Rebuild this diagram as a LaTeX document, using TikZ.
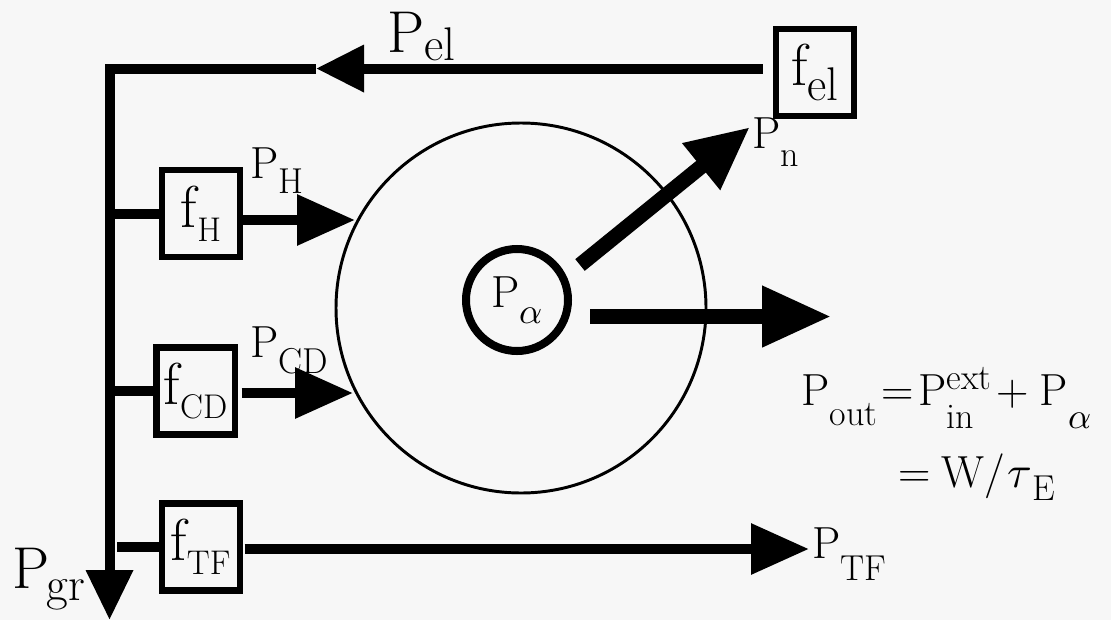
\documentclass[tikz,border=0pt]{standalone}
\usepackage{unicode-math}
\usepackage{graphicx}
\usetikzlibrary{arrows.meta}

\newcommand{\lowr}[2][0.35em]{\raisebox{-#1}{\scalebox{0.8}{#2}}}
\newcommand{\uppr}[2][0.35em]{\raisebox{#1}{\scalebox{0.8}{#2}}}
\newcommand{\lowf}[1]{\raisebox{-0.24em}{\scalebox{0.58}{#1}}}

\begin{document}
\begin{tikzpicture}[
  wire/.style={line width=7.1pt},
  ctrl/.style={draw,line width=4.3pt,minimum width=1.95cm,minimum height=2.175cm,inner sep=0pt,font=\fontsize{42}{46}\selectfont},
  lab/.style={anchor=base west,inner sep=0pt,font=\fontsize{32}{36}\selectfont},
  biglab/.style={anchor=base west,inner sep=0pt,font=\fontsize{42}{46}\selectfont},
  head/.style={-{Triangle[length=1.45cm,width=1.22cm]}}
]
\fill[black!3] (0.000,0.000) rectangle (27.775,-15.500);
\useasboundingbox (0.000,0.000) rectangle (27.775,-15.500);

\node[circle,draw,line width=2.1pt,minimum size=9.25cm,inner sep=0pt] (plasma) at (13.025,-7.700) {};
\node[circle,draw,line width=5.7pt,minimum size=2.55cm,inner sep=0pt,font=\fontsize{32}{36}\selectfont] (pa) at (12.925,-7.500) {P\lowr{$\alpha$}};

\node[ctrl] (fel) at (20.375,-1.813) {f\lowr[0.25em]{el}};
\node[ctrl] (fH) at (5.025,-5.338) {f\lowf{H}};
\node[ctrl] (fCD) at (4.888,-9.775) {f\lowf{CD}};
\node[ctrl] (fTF) at (5.013,-13.675) {f\lowf{TF}};

\coordinate (corner) at (2.738,-1.713);
\coordinate (grTip) at (2.738,-15.500);
\coordinate (elTip) at (7.900,-1.713);
\draw[wire,-{Triangle[length=1.2cm,width=1.125cm]},shorten <=0.25cm] (elTip -| fel.west) -- (elTip);
\draw[wire,-{Triangle[length=1.25cm,width=1.125cm]}] (elTip) -- (corner) -- (grTip);

\draw[wire] (fH.west) -- (fH.west -| corner);
\draw[wire] (fCD.west) -- (fCD.west -| corner);
\draw[wire,shorten >=0.19cm] (fTF.west) -- (fTF.west -| corner);

\coordinate (hTip) at (8.875,-5.500);
\draw[wire,head] (hTip -| fH.east) -- (hTip);
\coordinate (cdTip) at (8.825,-9.825);
\draw[wire,head,shorten <=0.1cm] (cdTip -| fCD.east) -- (cdTip);
\coordinate (tfTip) at (20.225,-13.725);
\draw[wire,head,shorten <=0.05cm] (tfTip -| fTF.east) -- (tfTip);

\coordinate (outTail) at (14.750,-7.913);
\coordinate (outTip) at (20.775,-7.913);
\draw[line width=10pt,-{Triangle[length=1.725cm,width=1.45cm]}] (outTail) -- (outTip);
\coordinate (nTail) at (14.500,-6.625);
\coordinate (nTip) at (18.750,-3.175);
\draw[line width=10.7pt,-{Triangle[length=1.575cm,width=1.4cm]}] (nTail) -- (nTip);

\node[biglab] (pel) at (9.675,-1.300) {P\lowr[0.15em]{el}};
\node[lab] (ph) at (6.250,-4.450) {P\lowr{H}};
\node[lab] (pcd) at (6.250,-8.925) {P\lowr[0.37em]{CD}};
\node[lab] (pn) at (18.800,-3.700) {P\lowr[0.42em]{n}};
\node[lab] (ptf) at (20.300,-13.950) {P\lowr[0.5em]{TF}};
\node[biglab] (pgr) at (0.300,-14.700) {P\kern-0.05em\lowr[0.22em]{gr}};
\node[lab] (pout) at (20.025,-10.125) {P\lowr[0.46em]{out}\hspace{0.1em}=\hspace{0.1em}P\rlap{\lowr[0.52em]{in}}\uppr{ext}\hspace{0.1em}+\hspace{0.25em}P\lowr[0.52em]{$\alpha$}};
\node[lab] (wtau) at (22.450,-12.175) {=\hspace{0.25em}W/\kern0.05em$\tau$\lowr[0.31em]{E}};
\end{tikzpicture}
\end{document}
